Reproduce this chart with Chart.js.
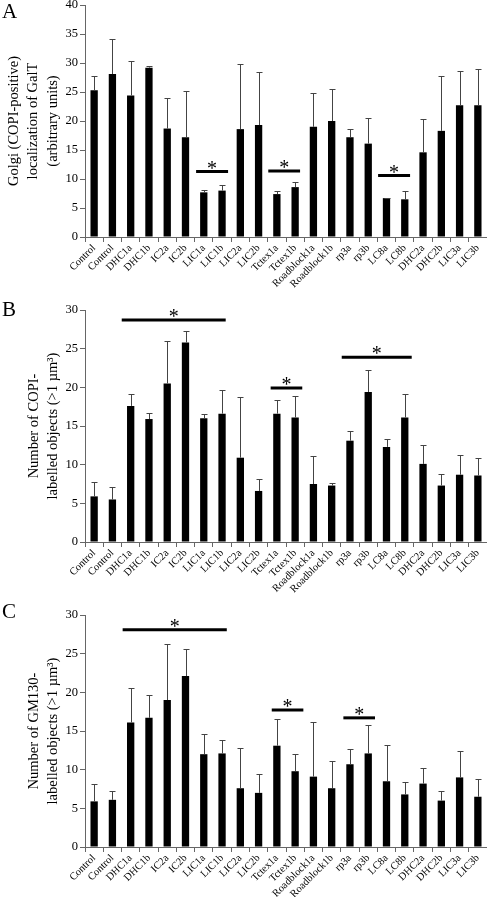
<!DOCTYPE html>
<html>
<head>
<meta charset="utf-8">
<script src="https://cdn.jsdelivr.net/npm/chart.js@4/dist/chart.umd.min.js"></script>
<style>
html, body { margin: 0; padding: 0; background: #fff; width: 487px; height: 897px; overflow: hidden; }
.panel { position: absolute; left: 0; width: 487px; }
.letter { position: absolute; left: 2px; font-family: "Liberation Serif", serif; font-size: 21px; line-height: 21px; color: #000; }
</style>
</head>
<body>
<div class="panel" style="top:0px"><canvas id="chartA" width="487" height="295"></canvas></div>
<div class="panel" style="top:290px"><canvas id="chartB" width="487" height="310"></canvas></div>
<div class="panel" style="top:595px"><canvas id="chartC" width="487" height="302"></canvas></div>
<div class="letter" style="top:1px">A</div>
<div class="letter" style="top:299px">B</div>
<div class="letter" style="top:601px">C</div>
<script>
const categories = ['Control', 'Control', 'DHC1a', 'DHC1b', 'IC2a', 'IC2b', 'LIC1a', 'LIC1b', 'LIC2a', 'LIC2b',
    'Tctex1a', 'Tctex1b', 'Roadblock1a', 'Roadblock1b', 'rp3a', 'rp3b', 'LC8a', 'LC8b', 'DHC2a', 'DHC2b', 'LIC3a', 'LIC3b'];

// panel A - GalT
const galtValues = [25.3, 28.1, 24.4, 29.2, 18.7, 17.2, 7.7, 8.0, 18.6, 19.3, 7.4, 8.6, 19.0, 20.0, 17.2, 16.1, 6.7, 6.5, 14.6, 18.3, 22.7, 22.7];
const galtErrors = [2.4, 6.0, 5.9, 0.3, 5.3, 8.0, 0.4, 0.9, 11.2, 9.2, 0.6, 0.9, 5.9, 5.6, 1.4, 4.5, 0.1, 1.5, 5.7, 9.5, 5.9, 6.2];
const galtSig = [[5.58, 7.33, 11.3], [9.53, 11.27, 11.4], [15.54, 17.29, 10.6]];

// panel B - COPI
const copiValues = [5.9, 5.5, 17.6, 15.9, 20.5, 25.8, 16.0, 16.6, 10.9, 6.6, 16.6, 16.1, 7.5, 7.3, 13.1, 19.4, 12.3, 16.1, 10.1, 7.3, 8.7, 8.6];
const copiErrors = [1.9, 1.6, 1.5, 0.8, 5.5, 1.5, 0.6, 3.1, 7.8, 1.5, 1.8, 2.8, 3.6, 0.3, 1.3, 2.9, 1.0, 3.0, 2.4, 1.5, 2.6, 2.3];
const copiSig = [[1.51, 7.2, 28.7], [9.66, 11.39, 19.9], [13.55, 17.38, 23.9]];

// panel C - GM130
const gm130Values = [5.9, 6.1, 16.1, 16.7, 19.0, 22.1, 12.0, 12.1, 7.6, 7.0, 13.1, 9.8, 9.1, 7.6, 10.7, 12.1, 8.5, 6.8, 8.2, 6.0, 9.0, 6.5];
const gm130Errors = [2.3, 1.2, 4.4, 2.9, 7.3, 3.5, 2.6, 1.8, 5.2, 2.5, 3.5, 2.2, 7.0, 3.5, 2.0, 3.7, 4.7, 1.6, 2.0, 1.3, 3.4, 2.3];
const gm130Sig = [[1.56, 7.26, 28.1], [9.72, 11.45, 17.7], [13.64, 15.37, 16.7]];

const serif = '"Liberation Serif", "Times New Roman", serif';
const axisColor = '#666';

// error bars (upper whisker only) + significance lines with asterisks
function marksPlugin(errors, sigs) {
    return {
        id: 'marks',
        afterDatasetsDraw(chart) {
            const ctx = chart.ctx;
            const x = chart.scales.x, y = chart.scales.y;
            const data = chart.data.datasets[0].data;
            ctx.save();
            ctx.strokeStyle = '#444';
            ctx.lineWidth = 1;
            chart.getDatasetMeta(0).data.forEach((bar, i) => {
                const px = Math.round(bar.x) + 0.5;
                const top = Math.round(y.getPixelForValue(data[i] + errors[i])) + 0.5;
                ctx.beginPath();
                ctx.moveTo(px, bar.y);
                ctx.lineTo(px, top);
                ctx.moveTo(px - 3, top);
                ctx.lineTo(px + 3, top);
                ctx.stroke();
            });
            ctx.strokeStyle = '#000';
            ctx.lineWidth = 3;
            ctx.fillStyle = '#000';
            ctx.font = '20px ' + serif;
            ctx.textAlign = 'center';
            ctx.textBaseline = 'middle';
            sigs.forEach(s => {
                const x1 = x.getPixelForValue(s[0]);
                const x2 = x.getPixelForValue(s[1]);
                const py = y.getPixelForValue(s[2]);
                ctx.beginPath();
                ctx.moveTo(x1, py);
                ctx.lineTo(x2, py);
                ctx.stroke();
                ctx.fillText('*', (x1 + x2) / 2, py - 2);
            });
            ctx.restore();
        }
    };
}

function makeChart(id, values, errors, sigs, yMax, title, titlePad, padTop, xHeight) {
    new Chart(document.getElementById(id), {
        type: 'bar',
        data: {
            labels: categories,
            datasets: [{
                data: values,
                backgroundColor: '#000',
                barPercentage: 0.4,
                categoryPercentage: 1
            }]
        },
        options: {
            responsive: false,
            animation: false,
            layout: { padding: { top: padTop, left: 0, right: 0, bottom: 0 } },
            plugins: { legend: { display: false }, tooltip: { enabled: false } },
            scales: {
                x: {
                    grid: { drawOnChartArea: false, tickLength: 5, color: axisColor, offset: true },
                    border: { color: axisColor },
                    ticks: { color: '#000', font: { family: serif, size: 10.5 }, minRotation: 45, maxRotation: 45, autoSkip: false, padding: 0 },
                    afterFit(scale) { scale.height = xHeight; scale.paddingLeft = 0; scale.paddingRight = 0; }
                },
                y: {
                    min: 0,
                    max: yMax,
                    grid: { drawOnChartArea: false, tickLength: 5, color: axisColor },
                    border: { color: axisColor },
                    ticks: { stepSize: 5, color: '#000', font: { family: serif, size: 12.5 }, padding: 2 },
                    title: { display: true, text: title, color: '#000', font: { family: serif, size: 14.5, lineHeight: 1.35 }, padding: { top: titlePad, bottom: 0 } },
                    afterFit(scale) { scale.width = 85; scale.paddingTop = 0; scale.paddingBottom = 0; }
                }
            }
        },
        plugins: [marksPlugin(errors, sigs)]
    });
}

makeChart('chartA', galtValues, galtErrors, galtSig, 40,
    ['Golgi (COPI-positive)', 'localization of GalT', '(arbitrary units)'], 4, 5, 58);
makeChart('chartB', copiValues, copiErrors, copiSig, 30,
    ['Number of COPI-', 'labelled objects (>1 µm³)'], 24, 20, 58);
makeChart('chartC', gm130Values, gm130Errors, gm130Sig, 30,
    ['Number of GM130-', 'labelled objects (>1 µm³)'], 24, 20, 50);
</script>
</body>
</html>
